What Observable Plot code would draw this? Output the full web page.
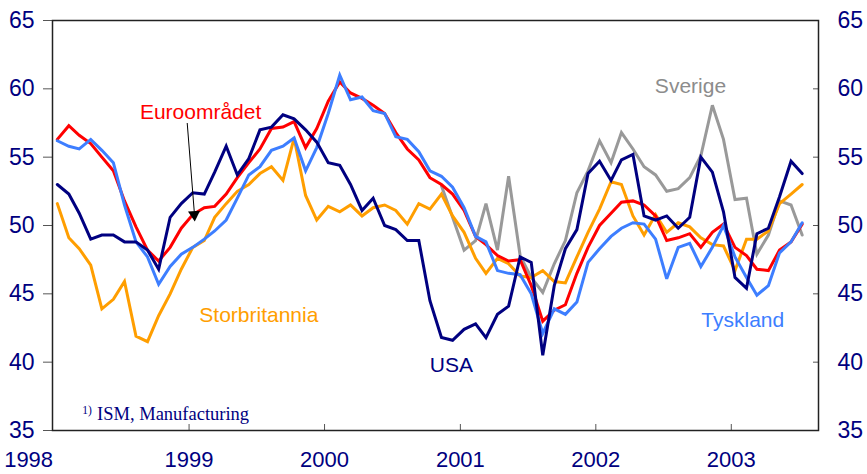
<!DOCTYPE html>
<html><head><meta charset="utf-8">
<script src="https://cdn.jsdelivr.net/npm/d3@7"></script>
<script src="https://cdn.jsdelivr.net/npm/@observablehq/plot@0.6"></script>
<style>
html,body{margin:0;padding:0;background:#fff;}
</style></head><body><div id="chart"></div>
<script>
// Monthly PMI, Jan 1998 - Jul 2003
const firstYear = 1998;
const nMonths = 67;
const euro = [56.3,57.3,56.6,56.0,55.0,54.0,51.8,49.9,48.2,47.4,48.4,49.8,
  50.8,51.3,51.4,52.3,53.5,54.6,55.6,57.1,57.2,57.6,55.7,57.1,
  59.1,60.5,59.7,59.3,58.8,58.2,56.8,55.6,54.8,53.5,53.0,52.3,
  51.1,49.2,48.6,47.8,47.4,47.5,45.6,43.0,43.8,44.2,46.5,48.4,
  50.0,50.9,51.7,51.8,51.5,50.7,48.9,49.1,49.4,48.4,49.5,50.1,
  48.4,47.8,46.8,46.7,48.2,48.8,50.1];
const tyskland = [56.2,55.8,55.6,56.3,55.5,54.6,51.5,48.8,47.7,45.7,47.0,47.9,
  48.4,49.0,49.6,50.4,52.0,53.7,54.3,55.5,55.8,56.4,54.0,55.7,
  58.2,61.0,59.2,59.4,58.4,58.2,56.5,56.3,55.4,54.0,53.6,52.8,
  51.3,49.2,48.8,46.7,46.5,46.4,45.0,42.1,43.9,43.5,44.4,47.3,
  48.3,49.2,49.8,50.2,50.1,49.0,46.1,48.4,48.7,47.0,48.4,50.0,
  47.7,46.2,44.9,45.6,48.0,48.8,50.2];
const usa = [53.0,52.3,50.9,49.0,49.3,49.3,48.8,48.8,48.2,46.8,50.6,51.6,
  52.4,52.3,53.9,55.8,53.7,54.9,57.0,57.2,58.1,57.8,57.0,56.1,
  54.6,54.4,53.0,51.1,52.0,50.0,49.7,48.9,48.9,44.5,41.8,41.6,
  42.4,42.8,41.8,43.5,44.1,47.7,47.3,40.5,45.6,48.3,49.7,53.8,
  54.7,53.3,54.8,55.2,50.7,50.4,50.7,49.8,50.6,55.0,53.9,51.0,
  46.2,45.4,49.4,49.8,52.1,54.7,53.8];
const storbritannia = [51.6,49.1,48.3,47.1,43.9,44.6,45.9,41.9,41.5,43.4,45.0,46.8,
  48.4,48.9,50.6,51.6,52.5,53.0,53.8,54.3,53.3,56.4,52.2,50.4,
  51.4,51.0,51.5,50.7,51.3,51.5,51.1,50.1,51.6,51.2,52.3,50.7,
  49.5,47.6,46.5,47.6,47.2,46.3,46.2,46.7,45.9,45.8,47.7,49.5,
  51.2,53.2,53.0,50.7,49.3,50.8,49.5,50.2,49.9,49.1,48.6,48.5,
  46.7,49.0,49.0,49.6,51.6,52.3,53.0];
// Sverige starts Nov 2000 (month index 34)
const sverigeStart = 34;
const sverige = [52.9,50.6,
  48.2,48.9,51.6,48.2,53.6,47.8,46.2,45.1,47.2,48.9,52.4,54.0,
  56.2,54.6,56.8,55.6,54.3,53.7,52.5,52.7,53.5,55.1,58.8,56.3,
  51.9,52.0,47.9,49.3,51.8,51.5,49.3];
const yTicks = [35,40,45,50,55,60,65];
const yearTicks = [1998,1999,2000,2001,2002,2003];

const months = d3.range(nMonths).map(i => new Date(Date.UTC(firstYear, i, 11)));
const rows = (vals, start = 0) => vals.map((v, i) => ({date: months[start + i], value: v}));

const series = [
  {name: "Sverige", color: "#999999", data: rows(sverige, sverigeStart)},
  {name: "Storbritannia", color: "#FF9E00", data: rows(storbritannia)},
  {name: "Euroområdet", color: "#FF0000", data: rows(euro)},
  {name: "Tyskland", color: "#3D7EFF", data: rows(tyskland)},
  {name: "USA", color: "#000080", data: rows(usa)}
];

const labels = [
  {text: "Euroområdet", date: new Date(Date.UTC(1999,1,1)), value: 58.3, color: "#FF0000"},
  {text: "Storbritannia", date: new Date(Date.UTC(1999,6,8)), value: 43.4, color: "#FF9E00"},
  {text: "USA", date: new Date(Date.UTC(2000,11,8)), value: 39.8, color: "#000080"},
  {text: "Sverige", date: new Date(Date.UTC(2002,8,13)), value: 60.2, color: "#8C8C8C"},
  {text: "Tyskland", date: new Date(Date.UTC(2003,1,1)), value: 43.05, color: "#3D7EFF"}
];
const arrow = [{x1: new Date(Date.UTC(1998,11,27)), y1: 57.5, x2: new Date(Date.UTC(1999,0,15)), y2: 51.0}];
const arrowHead = [{date: new Date(Date.UTC(1999,0,15)), value: 50.8}];

const yearDates = yearTicks.map(y => new Date(Date.UTC(y, 0, 1)));
const font = "'Liberation Sans', Arial, sans-serif";
const serif = "'Liberation Serif', 'Times New Roman', serif";

const chart = Plot.plot({
  width: 867, height: 474,
  marginLeft: 52, marginRight: 49, marginTop: 20, marginBottom: 44,
  x: {type: "utc", domain: [new Date(Date.UTC(1997,11,29)), new Date(Date.UTC(2003,7,24))]},
  y: {domain: [35, 65]},
  style: {fontFamily: font, background: "#fff"},
  marks: [
    Plot.axisY(yTicks, {anchor: "left", tickSize: 9, tickPadding: 9, fontSize: 23, fill: "#000080", stroke: "#555", label: null}),
    Plot.axisY(yTicks, {anchor: "right", tickSize: -6, tickPadding: 25, fontSize: 23, fill: "#000080", stroke: "#555", label: null}),
    Plot.axisX(yearDates.slice(1), {anchor: "bottom", tickSize: -6, tickPadding: 27, fontSize: 22, fill: "#000080", stroke: "#555", tickFormat: d => String(d.getUTCFullYear()), label: null}),
    Plot.axisX(yearDates.slice(0,1), {anchor: "bottom", tickSize: 0, tickPadding: 21, dx: -25, fontSize: 22, fill: "#000080", tickFormat: d => String(d.getUTCFullYear()), label: null}),
    ...series.map(s => Plot.lineY(s.data, {x: "date", y: "value", stroke: s.color, strokeWidth: 3, strokeLinejoin: "miter", strokeMiterlimit: 3})),
    Plot.text(labels, {x: "date", y: "value", text: "text", fill: "color", fontSize: 21, fontFamily: font}),
    Plot.link(arrow, {x1: "x1", y1: "y1", x2: "x2", y2: "y2", stroke: "#000", strokeWidth: 1}),
    Plot.dot(arrowHead, {x: "date", y: "value", symbol: "triangle", r: 4.5, fill: "#000", stroke: "none", rotate: 176}),
    Plot.text(["ISM, Manufacturing"], {x: new Date(Date.UTC(1998,3,28)), y: 36.2, text: d => d, textAnchor: "start", fontFamily: serif, fontSize: 18.5, fill: "#000080"}),
    Plot.text(["1)"], {x: new Date(Date.UTC(1998,2,19)), y: 36.2, text: d => d, textAnchor: "start", dy: -4, fontFamily: serif, fontSize: 11.5, fill: "#000080"}),
    Plot.frame({stroke: "#222", strokeWidth: 1.5})
  ]
});
document.getElementById("chart").appendChild(chart);
</script></body></html>
